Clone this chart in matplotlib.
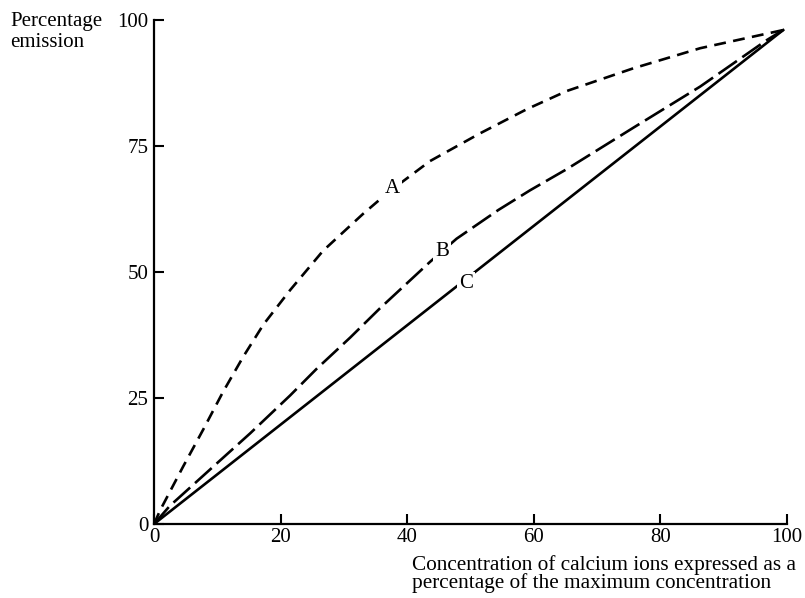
import matplotlib
matplotlib.use("Agg")
import matplotlib.pyplot as plt

plt.rcParams["font.family"] = ["Liberation Serif", "DejaVu Serif"]

# curve values (x = % max concentration, y = % emission)
a_x = [0, 1, 4.6, 7.8, 10.9, 14.1, 17.3, 21.5, 26.7, 33, 37, 43.6, 51.5, 58.9,
       65.2, 75.7, 86.3, 99.4]
a_y = [0, 2.8, 11.4, 18.8, 26.2, 33.2, 39.6, 46.4, 54.2, 61.5, 65.8, 72, 77.5,
       82.3, 85.9, 90.4, 94.4, 98]
b_x = [0, 2.5, 9.9, 15.2, 21.5, 25.7, 31, 35.7, 43.6, 47.8, 54.4, 59.4, 65.2,
       75.7, 86.3, 96.8, 99.4]
b_y = [0, 3.6, 12, 18, 25.5, 30.8, 37, 42.8, 52, 56.6, 62.3, 66.2, 70.4,
       78.6, 86.8, 96, 98]
c_x = [0, 99.4]
c_y = [0, 98]

labels = ["A", "B", "C"]
label_pos = [(37.6, 66.5), (45.5, 54), (49.3, 47.8)]

x_ticks = [0, 20, 40, 60, 80, 100]
y_ticks = [0, 25, 50, 75, 100]

fig = plt.figure(figsize=(8.05, 5.98), dpi=100)
ax = fig.add_axes([0.1913, 0.1237, 0.7863, 0.8429])

line_kw = dict(color="black", lw=1.9, solid_joinstyle="round",
               dash_joinstyle="round", dash_capstyle="butt")
ax.plot(a_x, a_y, dashes=(4.5, 2.8), **line_kw)
ax.plot(b_x, b_y, dashes=(8.5, 2.5), **line_kw)
ax.plot(c_x, c_y, **line_kw)

for lab, (lx, ly) in zip(labels, label_pos):
    ax.text(lx, ly, lab, fontsize=15, ha="center", va="center",
            bbox=dict(facecolor="white", edgecolor="none", pad=1.5))

ax.set_xlim(0, 100)
ax.set_ylim(0, 100)
ax.set_xticks(x_ticks)
ax.set_yticks(y_ticks)
ax.tick_params(direction="in", length=7, width=1.5, labelsize=15, pad=4)
ax.tick_params(axis="x", pad=3)
for side in ["top", "right"]:
    ax.spines[side].set_visible(False)
for side in ["left", "bottom"]:
    ax.spines[side].set_linewidth(1.6)

fig.text(10 / 805, 1 - 12 / 598, "Percentage\nemission", fontsize=15,
         ha="left", va="top", linespacing=1.12)
fig.text(412 / 805, 1 - 555 / 598,
         "Concentration of calcium ions expressed as a\npercentage of the maximum concentration",
         fontsize=15.3, ha="left", va="top", linespacing=0.9)

fig.savefig("out.png", dpi=100)
